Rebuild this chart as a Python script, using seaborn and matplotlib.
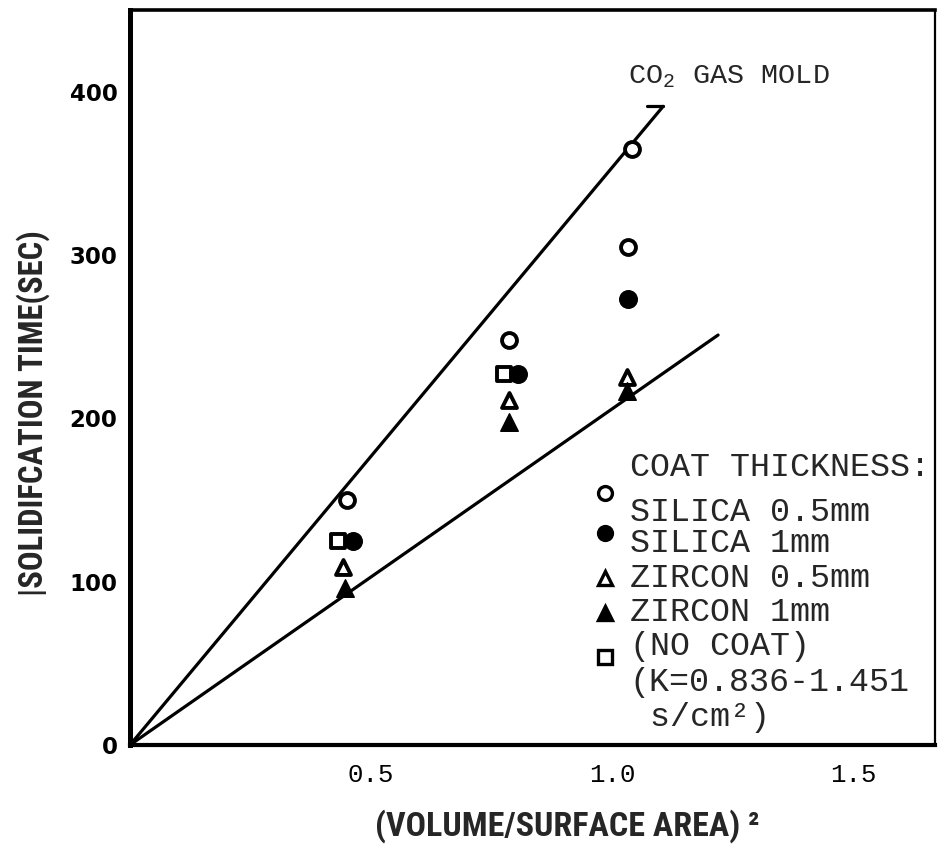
import matplotlib
matplotlib.use("Agg")
import matplotlib.pyplot as plt
import seaborn as sns
import numpy as np

# ---- measured solidification times (s) vs (V/A)^2 ----
silica_05_x = [0.450, 0.786, 1.041, 1.033]
silica_05_y = [150, 248, 365, 305]
silica_1_x = [0.463, 0.805, 1.033]
silica_1_y = [125, 227, 273]
zircon_05_x = [0.442, 0.786, 1.031]
zircon_05_y = [109, 211, 225]
zircon_1_x = [0.446, 0.786, 1.031]
zircon_1_y = [96, 198, 217]
nocoat_x = [0.432, 0.776]
nocoat_y = [125, 227]

# bounding lines through the origin
upper_x = [0.0, 1.106]
upper_y = [0, 391]
upper_tick_x = [1.073, 1.106]
upper_tick_y = [391, 391]
lower_x = [0.0, 1.220]
lower_y = [0, 251]

x_ticks = [0.5, 1.0, 1.5]
x_tick_labels = ["0.5", "1.0", "1.5"]
y_ticks = [0, 100, 200, 300, 400]
y_tick_labels = ["0", "100", "200", "300", "400"]

legend_title = "COAT THICKNESS:"
legend_labels = ["SILICA 0.5mm", "SILICA 1mm", "ZIRCON 0.5mm", "ZIRCON 1mm", "(NO COAT)"]
legend_note = ["(K=0.836-1.451", " s/cm²)"]

sns.set_style("white")
plt.rcParams["font.family"] = ["DejaVu Sans"]
plt.rcParams["mathtext.fontset"] = "custom"
plt.rcParams["mathtext.rm"] = "Liberation Mono"
plt.rcParams["mathtext.it"] = "Liberation Mono"

MONO = ["Liberation Mono", "DejaVu Sans Mono"]
NARROW = ["Roboto Condensed", "Liberation Sans"]

fig = plt.figure(figsize=(9.38, 8.55), dpi=100)
ax = fig.add_axes([0.1386, 0.1287, 0.9968 - 0.1386, 0.9883 - 0.1287])

# fitted lines
line_kw = dict(color="black", linewidth=2.3, sort=False, estimator=None, legend=False)
sns.lineplot(x=upper_x, y=upper_y, ax=ax, **line_kw)
sns.lineplot(x=upper_tick_x, y=upper_tick_y, ax=ax, **line_kw)
sns.lineplot(x=lower_x, y=lower_y, ax=ax, **line_kw)

# data series
open_kw = dict(facecolor="white", edgecolor="black", linewidth=2.8, zorder=5, legend=False)
fill_kw = dict(facecolor="black", edgecolor="black", linewidth=1.0, zorder=5, legend=False)
sns.scatterplot(x=silica_05_x, y=silica_05_y, marker="o", s=115, ax=ax, **open_kw)
sns.scatterplot(x=nocoat_x, y=nocoat_y, marker="s", s=115, ax=ax, **open_kw)
sns.scatterplot(x=silica_1_x, y=silica_1_y, marker="o", s=160, ax=ax, **fill_kw)
sns.scatterplot(x=zircon_05_x, y=zircon_05_y, marker="^", s=115, ax=ax, **open_kw)
sns.scatterplot(x=zircon_1_x, y=zircon_1_y, marker="^", s=160, ax=ax, **fill_kw)

ax.set_xlim(0, 1.67)
ax.set_ylim(0, 450)

ax.set_xticks(x_ticks)
ax.set_xticklabels(x_tick_labels, family=MONO, fontsize=18.5)
ax.set_yticks(y_ticks)
ax.set_yticklabels(y_tick_labels, family=["DejaVu Sans"], fontweight="bold", fontsize=16.5)
ax.tick_params(axis="both", direction="in", length=10, width=2.2, colors="black")
ax.tick_params(axis="x", pad=13)
ax.tick_params(axis="y", pad=9)

for side, lw in {"left": 3.6, "bottom": 3.0, "top": 2.6, "right": 1.6}.items():
    ax.spines[side].set_visible(True)
    ax.spines[side].set_linewidth(lw)
    ax.spines[side].set_color("black")

ax.set_xlabel("(VOLUME/SURFACE AREA) ²", family=NARROW, fontweight="bold",
              fontsize=24.5, va="center")
ax.xaxis.set_label_coords(0.543, -0.110)
ax.set_ylabel("|SOLIDIFCATION TIME(SEC)", family=NARROW, fontweight="bold",
              fontsize=23.5, va="center")
ax.yaxis.set_label_coords(-0.120, 0.452)

# annotation for the mold type
ax.text(1.033, 405, r"CO$_2$ GAS MOLD", family=MONO, fontsize=20.5,
        ha="left", va="baseline")

# key for coat thickness
ax.text(1.037, 170, legend_title, family=MONO, fontsize=24, ha="left", va="center")
key_markers = [("o", "white", 154), ("o", "black", 130), ("^", "white", 102),
               ("^", "black", 81), ("s", "white", 54)]
key_text_y = [142.5, 123.5, 102, 81, 60]
for (mk, fc, my), label, ty in zip(key_markers, legend_labels, key_text_y):
    ax.plot([0.985], [my], marker=mk, markersize=10, markerfacecolor=fc,
            markeredgecolor="black", markeredgewidth=2.4, linestyle="none",
            clip_on=False, zorder=5)
    ax.text(1.037, ty, label, family=MONO, fontsize=24, ha="left", va="center")
for note, ty in zip(legend_note, [38, 17]):
    ax.text(1.037, ty, note, family=MONO, fontsize=24, ha="left", va="center")

fig.savefig("out.png", dpi=100)
